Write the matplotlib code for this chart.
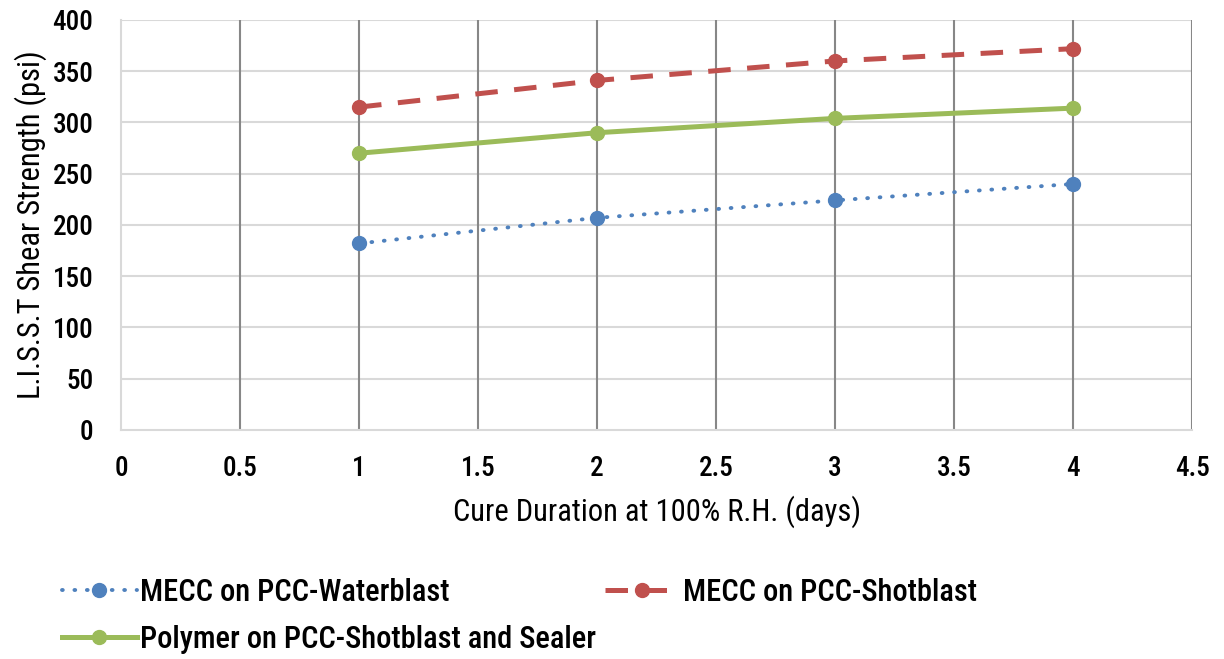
import matplotlib
matplotlib.use("Agg")
import matplotlib.pyplot as plt

plt.rcParams["font.family"] = ["Roboto Condensed", "Archivo Narrow", "DejaVu Sans"]
plt.rcParams["font.weight"] = 500

days = [1, 2, 3, 4]
waterblast = [182, 207, 224, 240]
shotblast = [315, 341, 360, 372]
polymer_sealer = [270, 290, 304, 314]

x_ticks = [0, 0.5, 1, 1.5, 2, 2.5, 3, 3.5, 4, 4.5]
x_labels = ["0", "0.5", "1", "1.5", "2", "2.5", "3", "3.5", "4", "4.5"]
y_ticks = [0, 50, 100, 150, 200, 250, 300, 350, 400]

BLUE = "#4f81bd"
RED = "#c0504d"
GREEN = "#9bbb59"
TICK_FS = 19.5
LABEL_FS = 22

fig = plt.figure(figsize=(12.24, 6.59), dpi=100)
ax = fig.add_axes([0.0989, 0.3475, 0.8751, 0.6222])

l_water, = ax.plot(days, waterblast, color=BLUE, linestyle=(0, (0.2, 3.0)), dash_capstyle="round",
                   linewidth=2.8, marker="o", markersize=10, label="MECC on PCC-Waterblast", zorder=3)
l_shot, = ax.plot(days, shotblast, color=RED, linestyle=(0, (4.5, 3.3)), linewidth=3.6,
                  marker="o", markersize=10, label="MECC on PCC-Shotblast", zorder=3)
l_poly, = ax.plot(days, polymer_sealer, color=GREEN, linestyle="-", linewidth=3.6,
                  marker="o", markersize=10, label="Polymer on PCC-Shotblast and Sealer", zorder=3)

ax.set_xlim(0, 4.5)
ax.set_ylim(0, 400)
ax.set_xticks(x_ticks)
ax.set_xticklabels(x_labels)
ax.set_yticks(y_ticks)
ax.tick_params(axis="both", length=0, labelsize=TICK_FS)
ax.tick_params(axis="x", pad=18)
ax.tick_params(axis="y", pad=20)

# horizontal grid light, vertical grid dark
for y in y_ticks[1:]:
    ax.axhline(y, color="#d9d9d9", linewidth=1.5, zorder=1)
for x in x_ticks[1:]:
    ax.axvline(x, color="#878787", linewidth=1.5, zorder=1)

for side in ["top", "right"]:
    ax.spines[side].set_visible(False)
ax.spines["left"].set_color("#d9d9d9")
ax.spines["bottom"].set_color("#d9d9d9")
ax.spines["left"].set_linewidth(1.5)
ax.spines["bottom"].set_linewidth(1.5)

ax.set_xlabel("Cure Duration at 100% R.H. (days)", fontsize=LABEL_FS, labelpad=10)
ax.set_ylabel("L.I.S.S.T Shear Strength (psi)", fontsize=LABEL_FS, labelpad=4)

# legend filled column-wise, so order gives two entries on the first row
fig.legend([l_water, l_poly, l_shot],
           [l_water.get_label(), l_poly.get_label(), l_shot.get_label()],
           loc="upper left", bbox_to_anchor=(0.028, 0.165),
           ncol=2, frameon=False, fontsize=LABEL_FS, handlelength=2.45, handletextpad=0.1,
           columnspacing=0.3, labelspacing=0.6)

fig.savefig("out.png", dpi=100)
